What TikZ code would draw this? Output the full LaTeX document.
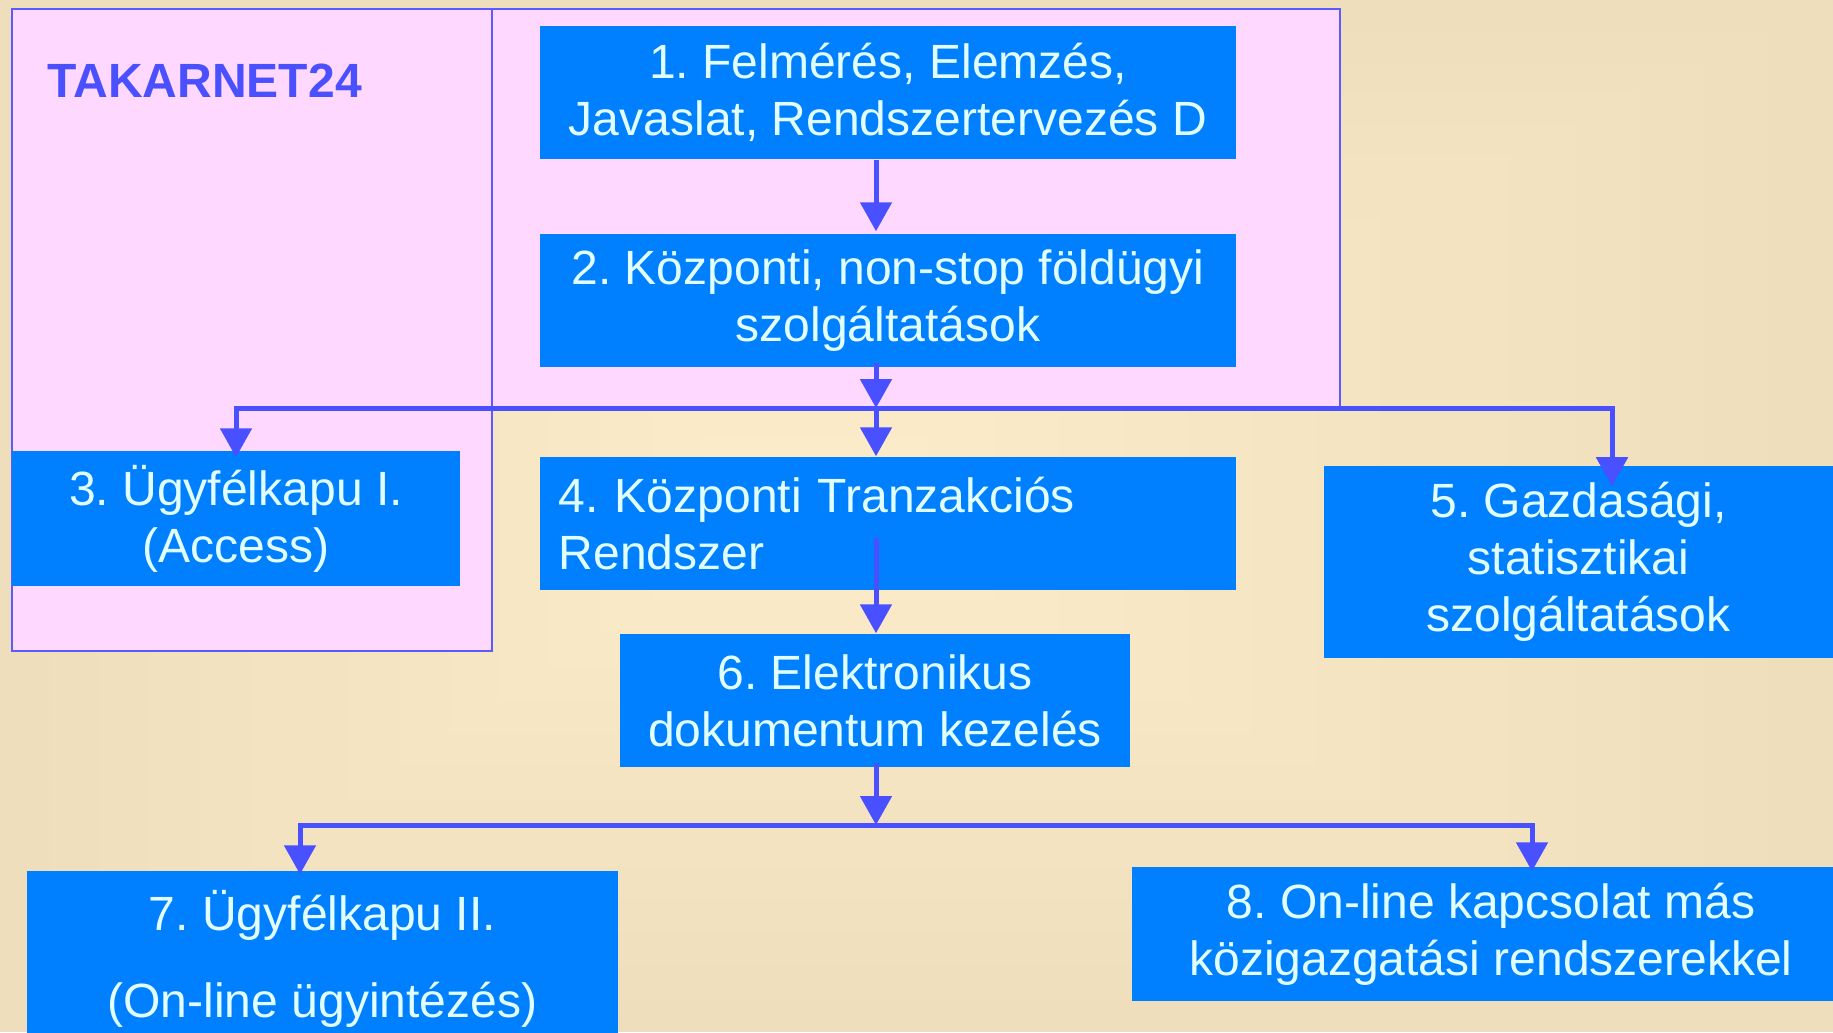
\documentclass[tikz,border=0pt]{standalone}
\usepackage{fontspec}
\setmainfont{Liberation Sans}
\usetikzlibrary{arrows.meta,calc}
\definecolor{bgout}{RGB}{238,222,187}
\definecolor{bgin}{RGB}{251,235,201}
\definecolor{pinkfill}{RGB}{255,216,255}
\definecolor{pinkline}{RGB}{90,90,255}
\definecolor{boxblue}{RGB}{0,128,255}
\definecolor{boxtext}{RGB}{225,255,255}
\definecolor{connblue}{RGB}{72,80,255}
\definecolor{titleblue}{RGB}{75,80,255}
\frenchspacing
\begin{document}
\begin{tikzpicture}[x=0.01cm,y=-0.01cm,
  stepbox/.style={fill=boxblue, text=boxtext, inner sep=0pt,
    font=\fontsize{13.66pt}{16.2pt}\selectfont\frenchspacing, align=center},
  conn/.style={draw=connblue, line width=0.05cm},
  arr/.style={conn, -{Triangle[width=0.31cm,length=0.29cm]}},
  zone/.style={fill=pinkfill, draw=pinkline, line width=0.02cm}]
\useasboundingbox (0,0) rectangle (1833,1032);
% background gradient
\foreach \i in {0,...,14}{
  \pgfmathsetmacro\ff{\i/16}
  \pgfmathsetmacro\pc{100*\i/14}
  \fill[bgin!\pc!bgout] ({800*\ff},{500*\ff}) rectangle ({1833-1033*\ff},{1032-532*\ff});
}
% pink zones
\path[zone] (12,9) rectangle (492,651);
\path[zone] (492,9) rectangle (1340,408);
\node[anchor=base west, text=titleblue, inner sep=0pt,
  font=\fontsize{13.66pt}{16pt}\selectfont\bfseries] (title) at (47,97) {TAKARNET24};
% boxes
\node[stepbox, minimum width=6.96cm, minimum height=1.33cm] (b1) at (888,92.5)
  {1. Felmérés, Elemzés,\\Javaslat, Rendszertervezés D};
\node[stepbox, minimum width=6.96cm, minimum height=1.33cm] (b2) at (888,300.5)
  {2. Központi, non-stop földügyi\\szolgáltatások};
\node[stepbox, minimum width=4.48cm, minimum height=1.35cm] (b3) at (236,518.5)
  {3. Ügyfélkapu I.\\(Access)};
\node[stepbox, minimum width=6.96cm, minimum height=1.33cm, text width=6.58cm, align=left] (b4) at (888,523.5)
  {4. Központi Tranzakciós\\Rendszer};
\node[stepbox, minimum width=5.09cm, minimum height=1.92cm] (b5) at (1578.5,562)
  {5. Gazdasági,\\statisztikai\\szolgáltatások};
\node[stepbox, minimum width=5.10cm, minimum height=1.33cm] (b6) at (875,700.5)
  {6. Elektronikus\\dokumentum kezelés};
\node[stepbox, minimum width=5.91cm, minimum height=1.76cm] (b7) at (322.5,959)
  {7. Ügyfélkapu II.\\[0.3cm](On-line ügyintézés)};
\node[stepbox, minimum width=7.18cm, minimum height=1.34cm] (b8) at (1491,934)
  {8. On-line kapcsolat más\\közigazgatási rendszerekkel};
% connector points
\coordinate (j1) at (876,408);
\coordinate (jr) at (1612,408);
\coordinate (j2) at (876,825);
\coordinate (jl2) at (300,825);
\coordinate (jr2) at (1532,825);
% connectors
\draw[arr] (b1.south -| j1) -- ($(b2.north -| j1)+(0,-2)$);
\draw[arr] ($(b2.south -| j1)+(0,-5)$) -- (j1);
\draw[arr] (j1) -| ($(b3.north)+(0,7)$);
\draw[arr] (j1) -| ($(b5.north -| jr)+(0,21)$);
\draw[arr] (j1) -- (b4.north -| j1);
\draw[arr] ($(b4.center -| j1)+(0,14)$) -- (b6.north -| j1);
\draw[arr] ($(b6.south -| j1)+(0,-5)$) -- (j2);
\draw[arr] (j2) -| ($(b7.north -| jl2)+(0,4)$);
\draw[arr] (j2) -| ($(b8.north -| jr2)+(0,5)$);
\end{tikzpicture}
\end{document}
